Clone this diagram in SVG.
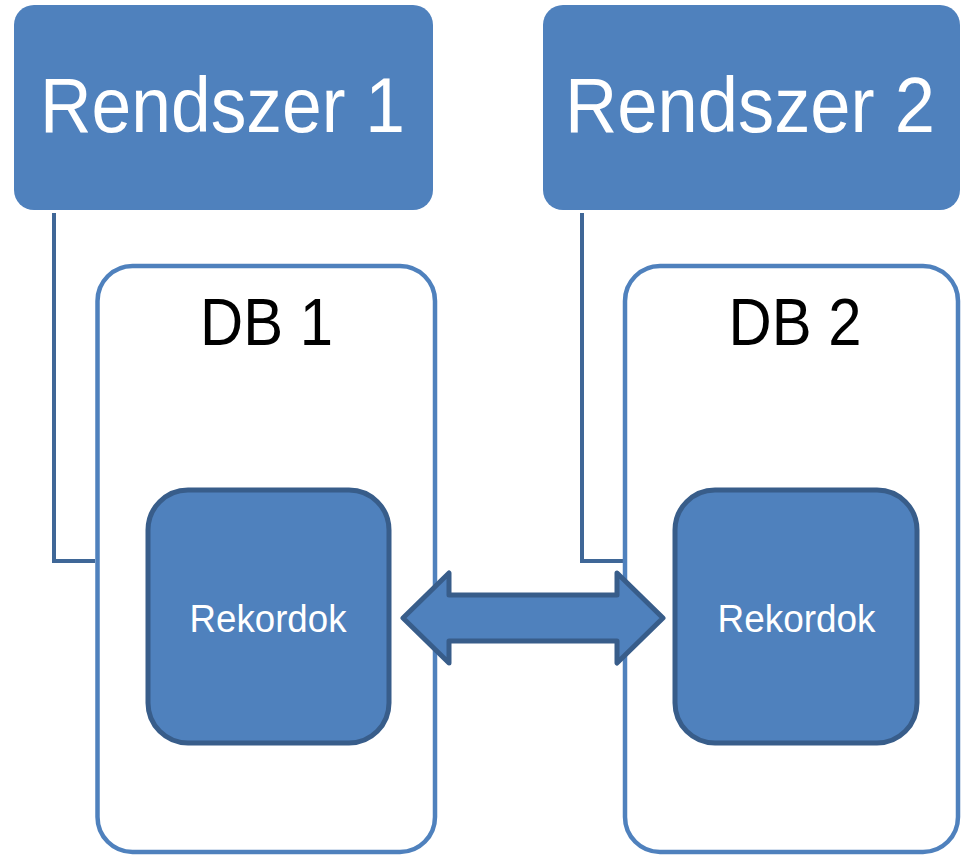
<svg xmlns="http://www.w3.org/2000/svg" width="961" height="855" viewBox="0 0 961 855">
<style>
.sys{fill:#4f81bd;}
.db{fill:#ffffff;stroke:#4f81bd;stroke-width:4.5;}
.rec{fill:#4f81bd;stroke:#385d8a;stroke-width:5;}
.conn{fill:none;stroke:#3f6797;stroke-width:4;}
.arrow{fill:#4f81bd;stroke:#385d8a;stroke-width:5;stroke-linejoin:round;}
.t{font-family:"Liberation Sans",Arial,sans-serif;text-anchor:middle;}
.big{font-size:77px;fill:#ffffff;}
.mid{font-size:67px;fill:#000000;}
.small{font-size:38px;fill:#ffffff;}
</style>
<rect width="961" height="855" fill="#ffffff"/>
<g id="rendszer1">
<rect class="sys" x="14" y="5" width="419" height="205" rx="20" ry="20"/>
<text class="t big" x="222.5" y="132" textLength="365" lengthAdjust="spacingAndGlyphs">Rendszer 1</text>
</g>
<g id="rendszer2">
<rect class="sys" x="543" y="5" width="417" height="205" rx="20" ry="20"/>
<text class="t big" x="750" y="132" textLength="370" lengthAdjust="spacingAndGlyphs">Rendszer 2</text>
</g>
<g id="connectors">
<polyline class="conn" points="54,213 54,561 95,561"/>
<polyline class="conn" points="582,213 582,561 623,561"/>
</g>
<g id="db1">
<rect class="db" x="97.5" y="266" width="337.5" height="586" rx="35" ry="35"/>
<text class="t mid" x="266.5" y="345" textLength="133" lengthAdjust="spacingAndGlyphs">DB 1</text>
</g>
<g id="db2">
<rect class="db" x="625" y="266" width="333" height="586" rx="35" ry="35"/>
<text class="t mid" x="795" y="345" textLength="133" lengthAdjust="spacingAndGlyphs">DB 2</text>
</g>
<g id="rekordok1">
<rect class="rec" x="148" y="490" width="241" height="253" rx="40" ry="40"/>
<text class="t small" x="268" y="632" textLength="157" lengthAdjust="spacingAndGlyphs">Rekordok</text>
</g>
<g id="rekordok2">
<rect class="rec" x="675" y="490" width="242" height="253" rx="40" ry="40"/>
<text class="t small" x="796.5" y="632" textLength="158" lengthAdjust="spacingAndGlyphs">Rekordok</text>
</g>
<g id="sync-arrow">
<polygon class="arrow" points="403,618 449,573 449,595 617,595 617,573 663,618 617,663 617,641 449,641 449,663"/>
</g>
</svg>
